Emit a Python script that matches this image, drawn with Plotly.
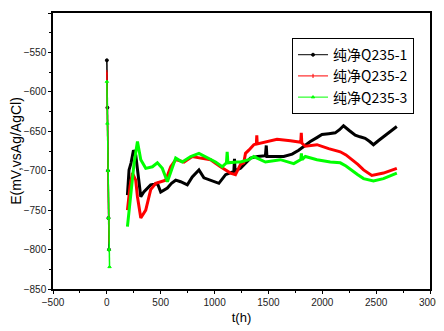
import plotly.graph_objects as go

# spike segment near t=0
t_spike_1 = [0, 5, 10, 15, 20]
E_spike_1 = [-560, -620, -700, -760, -800]
t_spike_2 = [0, 5, 10, 15, 20]
E_spike_2 = [-575, -640, -700, -750, -790]
t_spike_3 = [0, 5, 10, 15, 20, 25]
E_spike_3 = [-587, -640, -700, -760, -800, -822]

# main curves
t1 = [191, 206, 225, 247, 268, 290, 315, 343, 375, 407, 440, 469, 500, 530, 562, 600, 639, 685, 747, 793, 855, 901, 963, 1040, 1102,
      1179, 1185, 1190, 1241, 1287, 1333, 1400, 1472, 1480, 1486, 1560, 1642, 1720, 1781, 1840, 1889, 1950, 1997, 2060, 2120, 2160, 2197,
      2250, 2306, 2350, 2398, 2440, 2475, 2520, 2568, 2630, 2692]
E1 = [-731, -699, -690, -674, -680, -705, -733, -727, -722, -718, -717, -716, -727, -725, -722, -716, -712, -714, -718, -708, -699, -709, -712, -716, -705,
      -701, -685, -700, -697, -690, -684, -682, -681, -668, -682, -682, -682, -679, -674, -668, -663, -658, -654, -653, -652, -648, -643,
      -649, -655, -657, -659, -663, -667, -662, -657, -650, -644]

t2 = [191, 215, 237, 268, 284, 315, 361, 407, 454, 500, 546, 593, 639, 716, 793, 870, 963, 1055, 1148, 1194, 1241, 1271, 1287, 1318, 1364,
      1388, 1392, 1396, 1430, 1488, 1580, 1704, 1781, 1800, 1805, 1810, 1843, 1951, 2059, 2167, 2220, 2275, 2330, 2383, 2460, 2568, 2692]
E2 = [-750, -720, -703, -712, -733, -760, -750, -724, -716, -714, -712, -695, -686, -689, -682, -684, -686, -695, -703, -705, -692, -690, -678, -674, -667,
      -666, -655, -666, -665, -663, -660, -662, -663, -664, -652, -665, -669, -667, -672, -676, -680, -686, -692, -699, -706, -703, -697]

t3 = [191, 206, 222, 253, 284, 315, 361, 423, 469, 515, 562, 608, 639, 700, 778, 855, 932, 1009, 1071, 1110, 1117, 1124, 1210, 1241, 1318,
      1364, 1472, 1611, 1735, 1800, 1806, 1812, 1843, 1951, 2074, 2167, 2220, 2275, 2330, 2383, 2475, 2568, 2692]
E3 = [-771, -752, -733, -690, -663, -686, -697, -695, -690, -697, -714, -695, -684, -689, -682, -678, -684, -689, -695, -690, -676, -690, -689, -689, -686,
      -682, -689, -686, -691, -686, -678, -686, -682, -686, -689, -690, -694, -699, -705, -710, -713, -710, -703]

names = ["纯净Q235-1", "纯净Q235-2", "纯净Q235-3"]
colors = ["#000000", "#ff0000", "#00ff00"]
symbols = ["circle", "line-ns", "triangle-up"]

fig = go.Figure()
series = [(t_spike_1, E_spike_1, t1, E1), (t_spike_2, E_spike_2, t2, E2), (t_spike_3, E_spike_3, t3, E3)]
for i, (ts, es, tm, em) in enumerate(series):
    fig.add_trace(go.Scatter(
        x=ts, y=es, mode="lines+markers", showlegend=False,
        line=dict(color=colors[i], width=1.5),
        marker=dict(symbol=symbols[i], size=3, color=colors[i],
                    line=dict(color=colors[i], width=1)),
    ))
    fig.add_trace(go.Scatter(
        x=tm, y=em, mode="lines", showlegend=False,
        line=dict(color=colors[i], width=3),
    ))
for i in range(3):
    fig.add_trace(go.Scatter(
        x=[None], y=[None], mode="lines+markers", name=names[i],
        line=dict(color=colors[i], width=1),
        marker=dict(symbol=symbols[i], size=3, color=colors[i],
                    line=dict(color=colors[i], width=1)),
    ))

tickfont = dict(family="Liberation Sans", size=10, color="#222")
common = dict(
    showline=True, linecolor="black", linewidth=1.5, mirror=True,
    ticks="outside", ticklen=3, tickcolor="black", tickwidth=1,
    showgrid=False, zeroline=False, automargin=False, tickfont=tickfont,
)

fig.update_xaxes(range=[-500, 3000], dtick=500, tick0=-500,
                 title=dict(text="t(h)", font=dict(family="Liberation Sans", size=13, color="black"), standoff=6),
                 minor=dict(ticks="outside", ticklen=2, tickcolor="black", dtick=250), **common)
fig.update_yaxes(range=[-850, -500], dtick=50, tick0=-850,
                 title=dict(text="E(mV,vsAg/AgCl)", font=dict(family="Liberation Sans", size=14, color="black"), standoff=6),
                 minor=dict(ticks="outside", ticklen=2, tickcolor="black", dtick=25), **common)

# page body adds an 8px offset, so the figure is 8px smaller than the window
fig.update_layout(
    width=436, height=323,
    margin=dict(l=45, r=14, t=5, b=42),
    plot_bgcolor="white", paper_bgcolor="white",
    legend=dict(x=0.634, y=0.909, xanchor="left", yanchor="top",
                bordercolor="black", borderwidth=1, bgcolor="white",
                font=dict(family="Noto Sans CJK SC", size=14, color="black"),
                tracegroupgap=0, itemwidth=30),
    showlegend=True,
)

fig.write_html("out.html")
